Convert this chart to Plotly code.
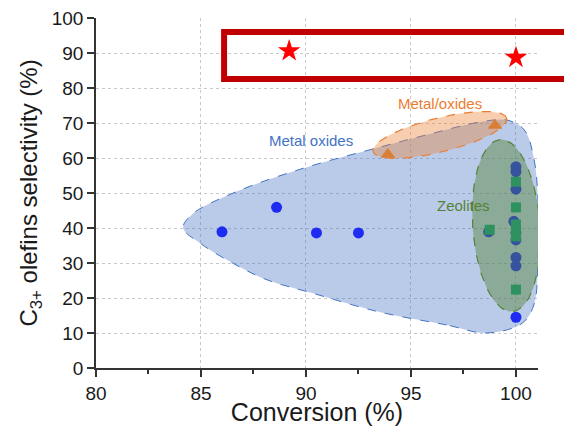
import numpy as np
import plotly.graph_objects as go

# ---------------- data ----------------
metal_oxides_x = [86.0, 88.6, 90.5, 92.5, 98.7, 100, 100, 100, 99.9, 100, 100, 100, 100, 100]
metal_oxides_y = [38.9, 45.9, 38.6, 38.6, 38.9, 57.5, 56.1, 51.1, 41.9, 38.6, 36.6, 31.6, 29.2, 14.5]

zeolites_x = [98.75, 100, 100, 100, 100, 100, 100]
zeolites_y = [39.5, 53.2, 45.9, 41.0, 39.3, 37.6, 22.4]

metal_on_oxides_x = [93.9, 99.0]
metal_on_oxides_y = [61.0, 69.3]

this_work_x = [89.2, 100.0]
this_work_y = [90.6, 88.7]

x_ticks = [80, 85, 90, 95, 100]
y_ticks = [0, 10, 20, 30, 40, 50, 60, 70, 80, 90, 100]

X_RANGE = [80, 101.05]
Y_RANGE = [0, 100]

# ---------------- region outlines (annotation geometry) ----------------
PX_X = 442 / (X_RANGE[1] - X_RANGE[0])   # px per x unit
PX_Y = 350 / (Y_RANGE[1] - Y_RANGE[0])   # px per y unit

blue_region = [
    (98.6, 10.0), (96.7, 12.3), (93.5, 16.0), (90.3, 21.4), (88.1, 25.3),
    (86.5, 30.0), (85.0, 35.5), (84.15, 40.0), (84.6, 44.0), (86.7, 50.4),
    (90.0, 57.3), (93.2, 62.6), (96.0, 67.0), (98.3, 70.3), (99.6, 70.8),
    (100.4, 68.0), (100.85, 60.0), (101.05, 48.0), (101.05, 30.0),
    (100.85, 18.0), (100.3, 12.8), (98.6, 10.0)
]


def ellipse(cx, cy, a_px, b_px, ang_deg, n=120):
    t = np.linspace(0, 2 * np.pi, n)
    th = np.deg2rad(ang_deg)
    dx = a_px * np.cos(t) * np.cos(th) - b_px * np.sin(t) * np.sin(th)
    dy = a_px * np.cos(t) * np.sin(th) + b_px * np.sin(t) * np.cos(th)
    return cx + dx / PX_X, cy + dy / PX_Y


orange_ell = ellipse(96.38, 66.6, 68.8, 17.0, 14.0)
green_ell = ellipse(99.54, 40.7, 86.2, 33.6, 94.0)

BLUE = "#4472C4"
ORANGE = "#ED7D31"
GREEN = "#548235"

fig = go.Figure()

bx, by = zip(*blue_region)
fig.add_trace(go.Scatter(
    x=list(bx), y=list(by), mode="lines", fill="toself",
    fillcolor="rgba(68,114,196,0.37)",
    line=dict(color=BLUE, width=1, dash="dash", shape="spline", smoothing=1.0),
    hoverinfo="skip", showlegend=False))

fig.add_trace(go.Scatter(
    x=orange_ell[0], y=orange_ell[1], mode="lines", fill="toself",
    fillcolor="rgba(237,125,49,0.38)",
    line=dict(color=ORANGE, width=1.2, dash="dash"),
    hoverinfo="skip", showlegend=False))

fig.add_trace(go.Scatter(
    x=metal_oxides_x, y=metal_oxides_y, mode="markers",
    marker=dict(symbol="circle", size=11, color="#1E2CF2"),
    showlegend=False, cliponaxis=False))

fig.add_trace(go.Scatter(
    x=metal_on_oxides_x, y=metal_on_oxides_y, mode="markers",
    marker=dict(symbol="triangle-up", size=13, color="#DA7E36"),
    showlegend=False))

fig.add_trace(go.Scatter(
    x=green_ell[0], y=green_ell[1], mode="lines", fill="toself",
    fillcolor="rgba(84,130,53,0.45)",
    line=dict(color=GREEN, width=1.2, dash="dash"),
    hoverinfo="skip", showlegend=False))

fig.add_trace(go.Scatter(
    x=zeolites_x, y=zeolites_y, mode="markers",
    marker=dict(symbol="square", size=10, color="#2E9160"),
    showlegend=False))

fig.add_trace(go.Scatter(
    x=this_work_x, y=this_work_y, mode="markers",
    marker=dict(symbol="star", size=17, color="#FF0000"),
    showlegend=False, cliponaxis=False))

# red highlight box (extends beyond the right edge)
rect_x0, rect_y0, rect_y1 = 86.1, 82.6, 96.0
fig.add_shape(
    type="rect", xref="paper", yref="paper",
    x0=(rect_x0 - X_RANGE[0]) / (X_RANGE[1] - X_RANGE[0]), x1=1.25,
    y0=(rect_y0 - Y_RANGE[0]) / (Y_RANGE[1] - Y_RANGE[0]),
    y1=(rect_y1 - Y_RANGE[0]) / (Y_RANGE[1] - Y_RANGE[0]),
    line=dict(color="#C00000", width=6), layer="above")

font_lbl = "Liberation Sans, Arial, sans-serif"
fig.add_annotation(x=90.26, y=65.1, text="Metal oxides", showarrow=False,
                   font=dict(family=font_lbl, size=15, color=BLUE))
fig.add_annotation(x=96.4, y=75.5, text="Metal/oxides", showarrow=False,
                   font=dict(family=font_lbl, size=15, color=ORANGE))
fig.add_annotation(x=97.48, y=46.3, text="Zeolites", showarrow=False,
                   font=dict(family=font_lbl, size=15, color=GREEN))

axis_common = dict(
    showline=True, linecolor="#333333", linewidth=1.5,
    ticks="outside", ticklen=7, tickwidth=1.5, tickcolor="#333333",
    tickfont=dict(family=font_lbl, size=19, color="#1a1a1a"),
    zeroline=False,
)

fig.update_xaxes(
    range=X_RANGE, tickmode="array", tickvals=x_ticks,
    ticktext=[str(v) for v in x_ticks],
    showgrid=True, gridcolor="#C8C8C8", griddash="dot", gridwidth=1,
    minor=dict(tickmode="array", tickvals=[82.5, 87.5, 92.5, 97.5],
               ticks="outside", ticklen=4, tickwidth=1.5, tickcolor="#333333",
               showgrid=False),
    title=dict(text="Conversion (%)", standoff=7,
               font=dict(family=font_lbl, size=25, color="#1a1a1a")),
    **axis_common)

fig.update_yaxes(
    range=Y_RANGE, tickmode="array", tickvals=y_ticks,
    ticktext=[str(v) for v in y_ticks],
    showgrid=False,
    minor=dict(tickmode="array", tickvals=y_ticks[1:-1], ticks="",
               showgrid=True, gridcolor="#C8C8C8", griddash="dot", gridwidth=1),
    title=dict(text="C<sub>3+</sub> olefins selectivity (%)", standoff=7,
               font=dict(family=font_lbl, size=24, color="#1a1a1a")),
    **axis_common)

fig.update_layout(
    width=564, height=426,
    margin=dict(l=96, r=26, t=18, b=58, autoexpand=False),
    paper_bgcolor="white", plot_bgcolor="white",
    showlegend=False,
)

fig.write_html(
    "out.html",
    config={"displayModeBar": False},
    post_script="document.body.style.margin='0';document.body.style.overflow='hidden';",
)
